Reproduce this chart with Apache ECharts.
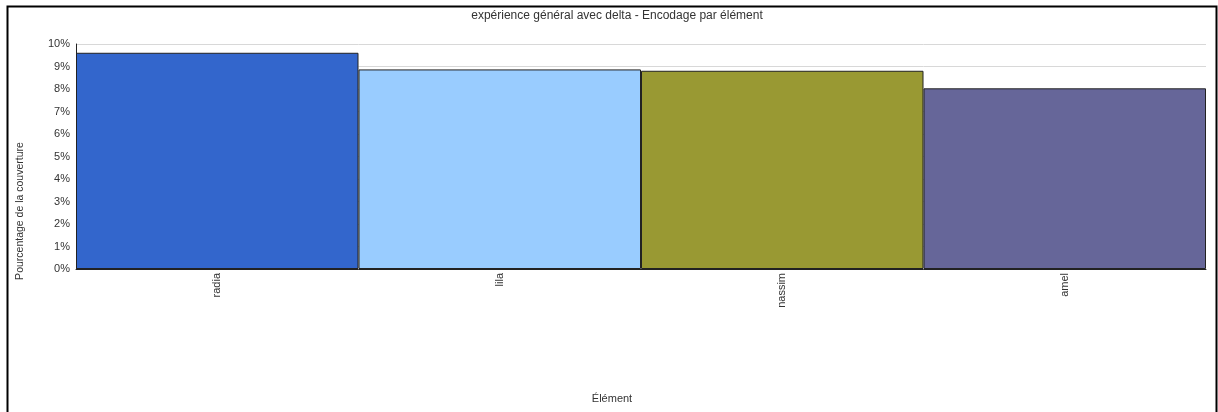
<!DOCTYPE html>
<html>
<head>
<meta charset="utf-8">
<script src="https://cdn.jsdelivr.net/npm/echarts@6/dist/echarts.min.js"></script>
<style>
  html, body { margin: 0; padding: 0; background: #fff; }
  #chart { width: 1218px; height: 412px; }
</style>
</head>
<body>
<div id="chart"></div>
<script>
// Coverage percentage per element
const categories = ['radia', 'lila', 'nassim', 'amel'];
const coverage = [9.61, 8.87, 8.81, 8.03];
const barColors = ['#3366CC', '#99CCFF', '#999933', '#666699'];
const yTicks = { min: 0, max: 10, interval: 1 };

const chart = echarts.init(document.getElementById('chart'));
const font = 'Liberation Sans, Arial, sans-serif';

chart.setOption({
  animation: false,
  backgroundColor: '#fff',
  title: {
    text: 'expérience général avec delta - Encodage par élément',
    left: 612, top: 5, textAlign: 'center',
    textStyle: { fontFamily: font, fontSize: 12, fontWeight: 'normal', color: '#333' }
  },
  grid: { left: 76, right: 12, top: 44, bottom: 143, containLabel: false },
  xAxis: {
    type: 'category',
    data: categories,
    axisLine: { show: true, lineStyle: { color: '#222', width: 1 } },
    axisTick: { show: false },
    axisLabel: { rotate: 90, fontFamily: font, fontSize: 11, color: '#333', margin: 4 }
  },
  yAxis: {
    type: 'value',
    min: yTicks.min, max: yTicks.max, interval: yTicks.interval,
    axisLine: { show: true, lineStyle: { color: '#222', width: 1 } },
    axisTick: { show: false },
    axisLabel: { formatter: '{value}%', fontFamily: font, fontSize: 11, color: '#333', margin: 6 },
    splitLine: { show: true, lineStyle: { color: '#d8d8d8', width: 1 } }
  },
  series: [{
    type: 'bar',
    barWidth: '100%',
    data: coverage.map((v, i) => ({ value: v, itemStyle: { color: barColors[i] } })),
    itemStyle: { borderColor: '#222', borderWidth: 1 }
  }],
  graphic: [
    {
      type: 'rect', silent: true, z: 100,
      shape: { x: 7.5, y: 6.5, width: 1209, height: 420 },
      style: { fill: 'none', stroke: '#000', lineWidth: 2 }
    },
    {
      type: 'text', x: 20, y: 211, rotation: Math.PI / 2,
      style: {
        text: 'Pourcentage de la couverture', fontFamily: font, fontSize: 10.5,
        fill: '#333', align: 'center', verticalAlign: 'middle'
      }
    },
    {
      type: 'text', x: 612, y: 399,
      style: {
        text: 'Élément', fontFamily: font, fontSize: 11,
        fill: '#333', align: 'center', verticalAlign: 'middle'
      }
    }
  ]
});
</script>
</body>
</html>
